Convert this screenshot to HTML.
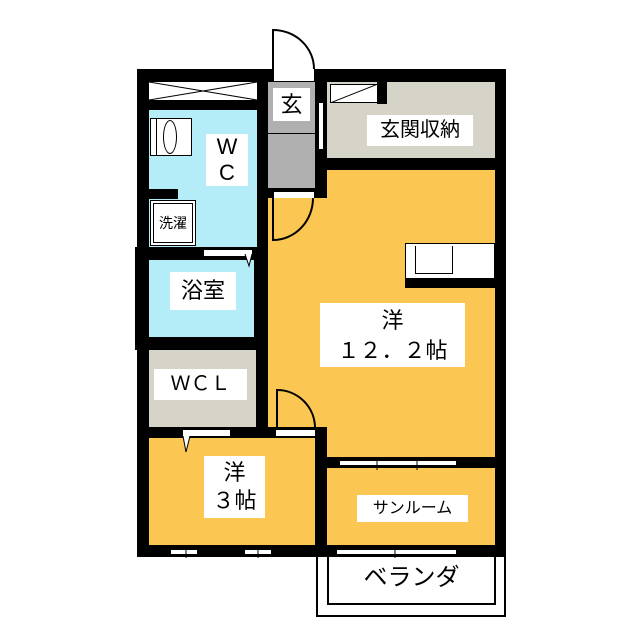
<!DOCTYPE html>
<html><head><meta charset="utf-8"><style>
body{margin:0;width:640px;height:640px;background:#fff;position:relative;overflow:hidden;font-family:"Liberation Sans","Noto Sans CJK JP",sans-serif}
div{position:absolute;box-sizing:border-box}
.k{background:#000}.w{background:#fff}.o{background:#fcc652}.b{background:#b4ecf8}.g{background:#b0b0b0}.e{background:#d6d4c8}
.t{background:#fff;color:#000;text-align:center;line-height:1.15}
.win{background:#fff;border-top:1px solid #000;border-bottom:1px solid #000;height:6px}
</style></head><body>
<div class="k" style="left:137px;top:69px;width:369px;height:488px"></div>
<div class="k" style="left:135px;top:247px;width:14px;height:103px"></div>
<div class="w" style="left:149px;top:82px;width:108px;height:18px"></div>
<svg style="position:absolute;left:149px;top:82px" width="108" height="18"><line x1="0" y1="0" x2="108" y2="18" stroke="#000"/><line x1="0" y1="18" x2="108" y2="0" stroke="#000"/></svg>
<div class="b" style="left:149px;top:110px;width:108px;height:137px"></div>
<div class="k" style="left:149px;top:189px;width:29px;height:10px"></div>
<div class="w" style="left:150px;top:200px;width:46px;height:46px;border:1px solid #000"></div>
<div style="left:153px;top:203px;width:40px;height:40px;border:1px solid #000;font-size:14px;line-height:38px;text-align:center;background:#fff">洗濯</div>
<div class="w" style="left:150px;top:118px;width:42px;height:38px;border:1px solid #000"></div>
<div style="left:163px;top:120px;width:14px;height:34px;border:1px solid #000;border-radius:50%"></div>
<div style="left:156px;top:118px;width:1px;height:38px;background:#000"></div>
<div class="t" style="left:206px;top:134px;width:42px;height:52px;font-size:22px;line-height:26px">W<br>C</div>
<div class="w" style="left:204px;top:250px;width:48px;height:6px"></div>
<div class="g" style="left:268px;top:82px;width:47px;height:106px"></div>
<div style="left:268px;top:133px;width:50px;height:1px;background:#000"></div>
<div class="w" style="left:318px;top:102px;width:6px;height:48px;border:1px solid #000"></div>
<div class="t" style="left:273px;top:88px;width:37px;height:33px;font-size:22px;line-height:33px">玄</div>
<div class="w" style="left:274px;top:69px;width:40px;height:12px"></div>
<div class="e" style="left:327px;top:82px;width:168px;height:76px"></div>
<div class="w" style="left:330px;top:84px;width:48px;height:19px;border:1px solid #000"></div>
<svg style="position:absolute;left:330px;top:84px" width="48" height="19"><line x1="0" y1="19" x2="48" y2="0" stroke="#000"/></svg>
<div class="k" style="left:377px;top:82px;width:10px;height:22px"></div>
<div class="t" style="left:367px;top:115px;width:106px;height:31px;font-size:20px;line-height:31px">玄関収納</div>
<div class="o" style="left:327px;top:170px;width:168px;height:287px"></div>
<div class="o" style="left:268px;top:198px;width:60px;height:229px"></div>
<div class="w" style="left:274px;top:192px;width:40px;height:6px"></div>
<svg style="position:absolute;left:0;top:0" width="640" height="640"><path d="M273,69 V30 A41,39 0 0 1 314,69" fill="#fff" stroke="#000" stroke-width="2"/><path d="M273,198 V240 A40,42 0 0 0 313,198" fill="none" stroke="#000" stroke-width="2"/><path d="M277,428 V390 A38,38 0 0 1 315,428" fill="none" stroke="#000" stroke-width="2"/></svg>
<div class="w" style="left:405px;top:243px;width:90px;height:37px;border:1px solid #000"></div>
<div style="left:415px;top:246px;width:38px;height:28px;border:1px solid #000;border-top:none"></div>
<div class="k" style="left:405px;top:278px;width:90px;height:10px"></div>
<div class="t" style="left:320px;top:303px;width:145px;height:64px;font-size:22px;line-height:30px;padding-top:3px">洋<br>１２．２帖</div>
<div class="b" style="left:149px;top:260px;width:105px;height:77px"></div>
<svg style="position:absolute;left:244px;top:254px" width="10" height="14"><path d="M1,0 L5,12 L8,0" fill="#fff" stroke="#000"/></svg>
<div class="t" style="left:170px;top:272px;width:66px;height:38px;font-size:22px;line-height:38px">浴室</div>
<div class="e" style="left:149px;top:350px;width:107px;height:77px"></div>
<div class="t" style="left:154px;top:369px;width:93px;height:31px;font-size:20px;line-height:31px">ＷＣＬ</div>
<div class="o" style="left:149px;top:438px;width:166px;height:107px"></div>
<div class="w" style="left:183px;top:430px;width:47px;height:6px"></div>
<div class="w" style="left:276px;top:430px;width:39px;height:6px"></div>
<svg style="position:absolute;left:182px;top:436px" width="10" height="18"><path d="M1,0 L4,16 L8,0" fill="#fff" stroke="#000"/></svg>
<div class="t" style="left:204px;top:456px;width:61px;height:62px;font-size:22px;line-height:28px;padding-top:3px">洋<br>３帖</div>
<div class="o" style="left:327px;top:468px;width:168px;height:77px"></div>
<div class="t" style="left:357px;top:495px;width:111px;height:27px;font-size:16px;line-height:27px">サンルーム</div>
<div class="win" style="left:340px;top:460px;width:116px"></div>
<div class="win" style="left:337px;top:549px;width:119px"></div>
<div class="win" style="left:171px;top:549px;width:26px"></div>
<div class="win" style="left:245px;top:549px;width:26px"></div>
<svg style="position:absolute;left:0;top:0" width="640" height="640"><g stroke="#000" stroke-width="1"><line x1="377" y1="457" x2="377" y2="470"/><line x1="417" y1="457" x2="417" y2="470"/><line x1="395" y1="546" x2="395" y2="558"/><line x1="186" y1="546" x2="186" y2="558"/><line x1="258" y1="546" x2="258" y2="558"/></g></svg>
<div style="left:316px;top:557px;width:190px;height:60px;border:2px solid #000;border-top:none"></div>
<div style="left:327px;top:557px;width:169px;height:48px;border:2px solid #000;border-top:none"></div>
<div style="left:327px;top:563px;width:169px;height:30px;font-size:24px;text-align:center;line-height:30px">ベランダ</div>
</body></html>
